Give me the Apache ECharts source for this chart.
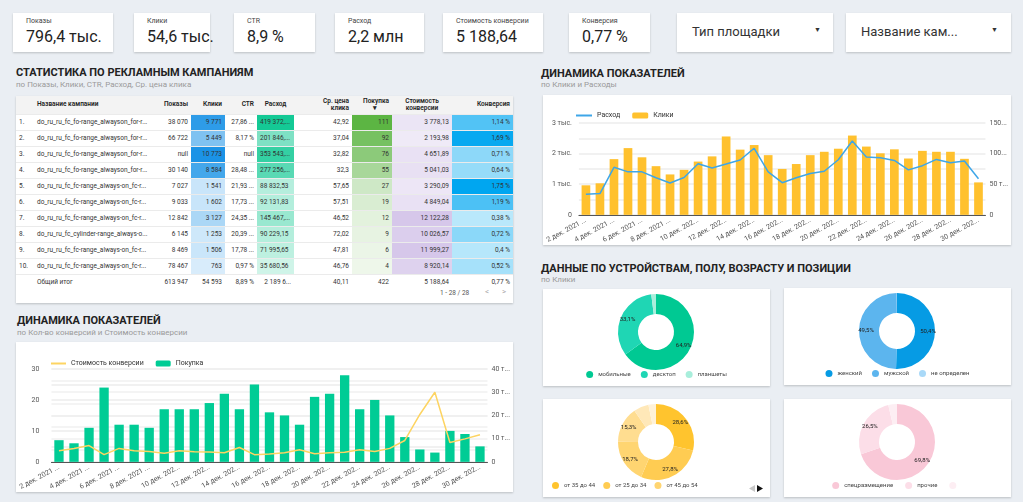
<!DOCTYPE html>
<html>
<head>
<meta charset="utf-8">
<script src="https://cdn.jsdelivr.net/npm/echarts@6/dist/echarts.min.js"></script>
<style>
  html, body { margin:0; padding:0; width:1023px; height:502px; overflow:hidden; background:#eaeef3;
    font-family: Roboto, "Noto Sans", sans-serif; color:#222; }
  .card { position:absolute; background:#fff; box-shadow:0 1px 2px rgba(0,0,0,0.2); }
  .kpi .lbl { position:absolute; left:13px; top:4px; font-size:7px; color:#444; white-space:nowrap; }
  .kpi .val { position:absolute; left:13px; top:14px; font-size:16px; line-height:19px; color:#222; white-space:nowrap; }
  .drop .txt { position:absolute; left:15px; top:11px; font-size:13px; color:#333; }
  .drop .arr { position:absolute; left:137px; top:13px; font-size:7px; color:#333; }
  .ttl { position:absolute; font-weight:700; font-size:11px; line-height:13px; color:#222; white-space:nowrap; }
  .sub { position:absolute; font-size:8px; line-height:10px; color:#9a9a9a; white-space:nowrap; }
  table { border-collapse:collapse; table-layout:fixed; position:absolute; left:0; top:0; width:497px; }
  td, th { padding:0 3px; font-size:6.5px; color:#333; white-space:nowrap; overflow:hidden; text-align:right;
    border-bottom:1px solid #ebebeb; box-sizing:border-box; }
  th { height:18px; background:#f3f3f3; font-weight:600; color:#222; line-height:7px; }
  td { height:16px; }
  td.l, th.l { text-align:left; }
  th.c { text-align:center; }
  .pager { position:absolute; top:193px; font-size:6.5px; color:#555; }
  .chart { position:absolute; }
</style>
</head>
<body>

<div class="card kpi" style="left:13px;top:13px;width:100px;height:39px"><div class="lbl">Показы</div><div class="val">796,4 тыс.</div></div>
<div class="card kpi" style="left:134px;top:13px;width:76px;height:39px"><div class="lbl">Клики</div><div class="val">54,6 тыс.</div></div>
<div class="card kpi" style="left:234px;top:13px;width:81px;height:39px"><div class="lbl">CTR</div><div class="val">8,9 %</div></div>
<div class="card kpi" style="left:335px;top:13px;width:89px;height:39px"><div class="lbl">Расход</div><div class="val">2,2 млн</div></div>
<div class="card kpi" style="left:443px;top:13px;width:100px;height:39px"><div class="lbl">Стоимость конверсии</div><div class="val">5 188,64</div></div>
<div class="card kpi" style="left:569px;top:13px;width:81px;height:39px"><div class="lbl">Конверсия</div><div class="val">0,77 %</div></div>
<div class="card drop" style="left:677px;top:13px;width:156px;height:39px"><div class="txt">Тип площадки</div><div class="arr">▼</div></div>
<div class="card drop" style="left:846px;top:13px;width:165px;height:39px"><div class="txt">Название кам...</div><div class="arr" style="left:145px">▼</div></div>

<div class="ttl" style="left:16px;top:66px">СТАТИСТИКА ПО РЕКЛАМНЫМ КАМПАНИЯМ</div>
<div class="sub" style="left:16px;top:80px">по Показы, Клики, CTR, Расход, Ср. цена клика</div>
<div class="card" id="tblCard" style="left:16px;top:96px;width:497px;height:207px"></div>

<div class="ttl" style="left:541px;top:67px">ДИНАМИКА ПОКАЗАТЕЛЕЙ</div>
<div class="sub" style="left:541px;top:80px">по Клики и Расходы</div>
<div class="card" style="left:543px;top:95px;width:468px;height:150px"><div class="chart" id="ch1" style="left:0;top:0;width:468px;height:150px"></div></div>

<div class="ttl" style="left:17px;top:314px">ДИНАМИКА ПОКАЗАТЕЛЕЙ</div>
<div class="sub" style="left:17px;top:328px">по Кол-во конверсий и Стоимость конверсии</div>
<div class="card" style="left:16px;top:342px;width:497px;height:150px"><div class="chart" id="ch2" style="left:0;top:0;width:497px;height:150px"></div></div>

<div class="ttl" style="left:541px;top:262px">ДАННЫЕ ПО УСТРОЙСТВАМ, ПОЛУ, ВОЗРАСТУ И ПОЗИЦИИ</div>
<div class="sub" style="left:541px;top:275px">по Клики</div>
<div class="card" style="left:543px;top:289px;width:227px;height:97px"><div class="chart" id="p1" style="left:0;top:0;width:227px;height:97px"></div></div>
<div class="card" style="left:784px;top:288px;width:227px;height:97px"><div class="chart" id="p2" style="left:0;top:0;width:227px;height:97px"></div></div>
<div class="card" style="left:543px;top:399px;width:227px;height:98px"><div class="chart" id="p3" style="left:0;top:0;width:227px;height:98px"></div></div>
<div class="card" style="left:784px;top:399px;width:227px;height:98px"><div class="chart" id="p4" style="left:0;top:0;width:227px;height:98px"></div></div>

<script>
// ---- table data ----
var campNames = [
  'do_ru_ru_fc_fo-range_alwayson_for-r...',
  'do_ru_ru_fc_fo-range_alwayson_for-r...',
  'do_ru_ru_fc_fo-range_alwayson_for-r...',
  'do_ru_ru_fc_fo-range_alwayson_for-r...',
  'do_ru_ru_fc_fc-range_always-on_fc-r...',
  'do_ru_ru_fc_fc-range_always-on_fc-r...',
  'do_ru_ru_fc_fc-range_always-on_fc-r...',
  'do_ru_ru_fc_cylinder-range_always-o...',
  'do_ru_ru_fc_fc-range_always-on_fc-r...',
  'do_ru_ru_fc_fc-range_always-on_fc-r...'
];
var campShows = [38070, 66722, null, 30140, 7027, 9033, 12842, 6145, 8469, 78467];
var campClicks = [9771, 5449, 10773, 8584, 1541, 1602, 3127, 1253, 1506, 763];
var campCtr = [27.86, 8.17, null, 28.48, 21.93, 17.73, 24.35, 20.39, 17.78, 0.97];
var campSpend = [419372.41, 201846.22, 353543.18, 277256.37, 88832.53, 92131.83, 145467.35, 90229.15, 71995.65, 35680.56];
var campCpc = [42.92, 37.04, 32.82, 32.3, 57.65, 57.51, 46.52, 72.02, 47.81, 46.76];
var campBuys = [111, 92, 76, 55, 27, 19, 12, 9, 6, 4];
var campCost = [3778.13, 2193.98, 4651.89, 5041.03, 3290.09, 4849.04, 12122.28, 10026.57, 11999.27, 8920.14];
var campConv = [1.14, 1.69, 0.71, 0.64, 1.75, 1.19, 0.38, 0.72, 0.4, 0.52];
var totalRow = ['', 'Общий итог', '613 947', '54 593', '8,89 %', '2 189 6...', '40,11', '422', '5 188,64', '0,77 %'];

// ---- daily data (2..30 дек.) ----
var days = [2,3,4,5,6,7,8,9,10,11,12,13,14,15,16,17,18,19,20,21,22,23,24,25,26,27,28,29,30];
var dailyClicks = [965,1030,1820,2180,1880,1590,1320,1470,1740,1910,2560,2130,2280,1950,1500,1660,1950,2060,2160,2590,2230,2010,2140,1840,2090,2060,2060,1830,1060];
var dailySpend = [33700,34800,77700,70200,70200,60500,52000,61000,83600,76600,83000,89500,108700,70200,52500,60500,67500,71200,90000,120500,94300,93200,88900,73400,80300,90500,85200,87800,58900];
var dailyBuys = [7,6,11,24,12,12,11,17,17,17,19,22,17,25,16,15,12,21,22,28,17,20,15,8,4,3,10,9,5];
var dailyConvCost = [4800,5800,7000,3100,5800,4800,4500,3700,4800,4400,4200,3900,6200,3100,3400,3900,5200,3500,3900,4100,5200,4500,5800,9200,20400,30000,8300,9900,11700];

// ---- pies ----
var devNames = ['мобильные', 'десктоп', 'планшеты'];
var devVals = [64.9, 33.1, 2.0];
var genNames = ['женский', 'мужской', 'не определен'];
var genVals = [50.4, 49.5, 0.1];
var ageNames = ['от 35 до 44', 'от 25 до 34', 'от 45 до 54', 'от 18 до 24', 'старше 55', 'младше 18'];
var ageVals = [28.6, 27.8, 18.7, 15.3, 6.4, 3.2];
var posNames = ['спецразмещение', 'прочие', ' '];
var posVals = [69.8, 26.5, 3.7];

function fmtNum(v, dec) {
  if (v === null) return 'null';
  var s = v.toFixed(dec);
  if (dec > 0) s = s.replace(/\.?0+$/, '');
  var parts = s.split('.');
  parts[0] = parts[0].replace(/\B(?=(\d{3})+(?!\d))/g, ' ');
  return parts.join(',');
}
function hex(c) { return [parseInt(c.substr(1,2),16), parseInt(c.substr(3,2),16), parseInt(c.substr(5,2),16)]; }
function mix(a, b, t) {
  var x = hex(a), y = hex(b);
  t = Math.max(0, Math.min(1, t));
  return 'rgb(' + x.map(function (v, i) { return Math.round(v + (y[i] - v) * t); }).join(',') + ')';
}
function scaleColor(arr, lo, hi, v) {
  var mx = Math.max.apply(null, arr);
  return mix(lo, hi, v / mx);
}

// build table
var colW = [18, 116, 41, 34, 32, 37, 58, 40, 60, 61];
var html = '<table><colgroup>' + colW.map(function (w) { return '<col style="width:' + w + 'px">'; }).join('') + '</colgroup>';
html += '<tr><th></th><th class="l">Название кампании</th><th>Показы</th><th>Клики</th><th>CTR</th><th class="c">Расход</th>' +
  '<th>Ср. цена<br>клика</th><th>Покупка<br><span style="padding-right:12px">▾</span></th><th class="c">Стоимость<br>конверсии</th><th>Конверсия</th></tr>';
for (var i = 0; i < campNames.length; i++) {
  var ctr = campCtr[i] === null ? 'null' : fmtNum(campCtr[i], 2) + ' %';
  if (ctr.length > 6) ctr = ctr.slice(0, 5) + ' ...';
  var sp = campSpend[i].toFixed(2).replace('.', ',').replace(/\B(?=(\d{3})+(?!\d))/g, ' ');
  if (sp.length > 9) sp = sp.slice(0, 8) + '...';
  var cost = campCost[i].toFixed(2).replace('.', ',').replace(/\B(?=(\d{3})+(?!\d))/g, ' ');
  html += '<tr>' +
    '<td class="l">' + (i + 1) + '.</td>' +
    '<td class="l">' + campNames[i] + '</td>' +
    '<td>' + fmtNum(campShows[i], 0) + '</td>' +
    '<td style="background:' + scaleColor(campClicks, '#e6f3fd', '#1b93e6', campClicks[i]) + '">' + fmtNum(campClicks[i], 0) + '</td>' +
    '<td>' + ctr + '</td>' +
    '<td class="l" style="background:' + scaleColor(campSpend, '#e0f8f0', '#14c995', campSpend[i]) + '">' + sp + '</td>' +
    '<td>' + fmtNum(campCpc[i], 2) + '</td>' +
    '<td style="background:' + scaleColor(campBuys, '#f3f9f0', '#5cb543', campBuys[i]) + '">' + campBuys[i] + '</td>' +
    '<td style="background:' + scaleColor(campCost, '#f5f2fa', '#d6c7ea', campCost[i]) + '">' + cost + '</td>' +
    '<td style="background:' + mix('#c4ecfc', '#00a6f0', (campConv[i] - 0.3) / 1.45) + '">' + fmtNum(campConv[i], 2) + ' %</td>' +
    '</tr>';
}
html += '<tr>' + totalRow.map(function (t, k) { return '<td' + (k < 2 ? ' class="l"' : '') + ' style="border-bottom:none">' + t + '</td>'; }).join('') + '</tr>';
html += '</table>';
html += '<div class="pager" style="left:424px">1 - 28 / 28</div><div class="pager" style="left:469px;color:#aaa;font-size:8px;top:191px">&lt;</div><div class="pager" style="left:486px;color:#aaa;font-size:8px;top:191px">&gt;</div>';
document.getElementById('tblCard').innerHTML = html;

function dayLabel(d) { return d < 10 ? d + ' дек. 2021 ...' : d + ' дек. 202...'; }

var axisTxt = { fontSize: 7, color: '#555', fontFamily: 'Roboto' };

// ---- chart 1: Клики и Расход ----
var c1 = echarts.init(document.getElementById('ch1'));
c1.setOption({
  animation: false,
  textStyle: { fontFamily: 'Roboto' },
  legend: {
    left: 27, top: 12, itemWidth: 16, itemHeight: 6, itemGap: 12,
    textStyle: { fontSize: 7, color: '#333' },
    data: [{ name: 'Расход', itemStyle: { opacity: 0 } }, 'Клики']
  },
  grid: { left: 27, right: 23, top: 28, bottom: 29 },
  xAxis: {
    type: 'category', data: days.map(dayLabel),
    axisTick: { show: false }, axisLine: { lineStyle: { color: '#555' } },
    axisLabel: Object.assign({ interval: 1, rotate: 28, margin: 5 }, axisTxt)
  },
  yAxis: [{
    type: 'value', min: 0, max: 3000, interval: 500,
    axisLabel: Object.assign({ margin: 7, formatter: function (v) { return { 3000: '3 тыс.', 2000: '2 тыс.', 1000: '1 тыс.', 0: '0' }[v] || ''; } }, axisTxt),
    splitLine: { lineStyle: { color: '#ededed', width: 1.5 } }
  }, {
    type: 'value', min: 0, max: 150000, interval: 25000,
    splitLine: { show: false },
    axisLabel: Object.assign({ margin: 4, formatter: function (v) { return { 150000: '150...', 100000: '100...', 50000: '50 т...', 0: '0' }[v] || ''; } }, axisTxt)
  }],
  series: [{
    name: 'Клики', type: 'bar', data: dailyClicks, barCategoryGap: '38%',
    itemStyle: { color: '#ffc12e' }
  }, {
    name: 'Расход', type: 'line', yAxisIndex: 1, data: dailySpend, symbol: 'none',
    lineStyle: { color: '#3ea6e8', width: 1.5 }, itemStyle: { color: '#3ea6e8' }
  }]
});

// ---- chart 2: Покупка и Стоимость конверсии ----
var c2 = echarts.init(document.getElementById('ch2'));
c2.setOption({
  animation: false,
  textStyle: { fontFamily: 'Roboto' },
  legend: {
    left: 29, top: 13, itemWidth: 15, itemHeight: 6, itemGap: 12,
    textStyle: { fontSize: 7, color: '#333' },
    data: [{ name: 'Стоимость конверсии', itemStyle: { opacity: 0 } }, 'Покупка']
  },
  grid: { left: 29, right: 23, top: 27, bottom: 28 },
  xAxis: {
    type: 'category', data: days.map(dayLabel),
    axisTick: { show: false }, axisLine: { lineStyle: { color: '#555' } },
    axisLabel: Object.assign({ interval: 1, rotate: 28, margin: 5 }, axisTxt)
  },
  yAxis: [{
    type: 'value', min: 0, max: 30, interval: 5,
    axisLabel: Object.assign({ margin: 12, formatter: function (v) { return v % 10 === 0 ? String(v) : ''; } }, axisTxt),
    splitLine: { lineStyle: { color: '#ededed', width: 1.5 } }
  }, {
    type: 'value', min: 0, max: 40000, interval: 5000,
    splitLine: { show: true, lineStyle: { color: '#f1f1f1', width: 1.5 } },
    axisLabel: Object.assign({ margin: 4, formatter: function (v) { return v === 0 ? '0' : (v % 10000 === 0 ? (v / 1000) + ' т...' : ''); } }, axisTxt)
  }],
  series: [{
    name: 'Покупка', type: 'bar', data: dailyBuys, barCategoryGap: '38%',
    itemStyle: { color: '#00cc95' }
  }, {
    name: 'Стоимость конверсии', type: 'line', yAxisIndex: 1, data: dailyConvCost, symbol: 'none',
    lineStyle: { color: '#fdd462', width: 1.5 }, itemStyle: { color: '#fdd462' }
  }]
});

// ---- donuts ----
function donut(id, names, vals, colors, gap, pager) {
  var ch = echarts.init(document.getElementById(id));
  var legend = {
    bottom: 3, left: 'center', icon: 'circle', itemWidth: 7, itemHeight: 7, itemGap: gap,
    textStyle: { fontSize: 6, color: '#444' },
    data: names.slice(0, 3)
  };
  var graphic = [];
  if (pager) {
    // only the first legend page is visible, with the pager arrows at the right
    legend.left = 4;
    graphic = [
      { type: 'polygon', left: 206, top: 86, shape: { points: [[6, 0], [6, 7], [0, 3.5]] }, style: { fill: '#c8c8c8' } },
      { type: 'polygon', left: 214, top: 86, shape: { points: [[0, 0], [0, 7], [6, 3.5]] }, style: { fill: '#111' } }
    ];
  }
  ch.setOption({
    animation: false,
    textStyle: { fontFamily: 'Roboto' },
    color: colors,
    legend: legend,
    graphic: graphic,
    series: [{
      type: 'pie', center: [113, 43], radius: [18, 38], startAngle: 90,
      label: {
        position: 'inside', fontSize: 6, color: '#222',
        formatter: function (p) { return p.value >= 10 ? p.value.toFixed(1).replace('.', ',') + '%' : ''; }
      },
      labelLine: { show: false },
      data: names.map(function (n, i) { return { name: n, value: vals[i] }; })
    }]
  });
}
donut('p1', devNames, devVals, ['#00c993', '#1fd6b4', '#a8eedb'], 10);
donut('p2', genNames, genVals, ['#069be4', '#5cb5ee', '#a9d9f8'], 10);
donut('p3', ageNames, ageVals, ['#ffc42e', '#ffcc52', '#ffd571', '#ffdd90', '#ffe8b8', '#fff2d8'], 8, true);
donut('p4', posNames, posVals, ['#f9c8d7', '#fcdee8', '#fdeef3'], 12);
</script>
</body>
</html>
